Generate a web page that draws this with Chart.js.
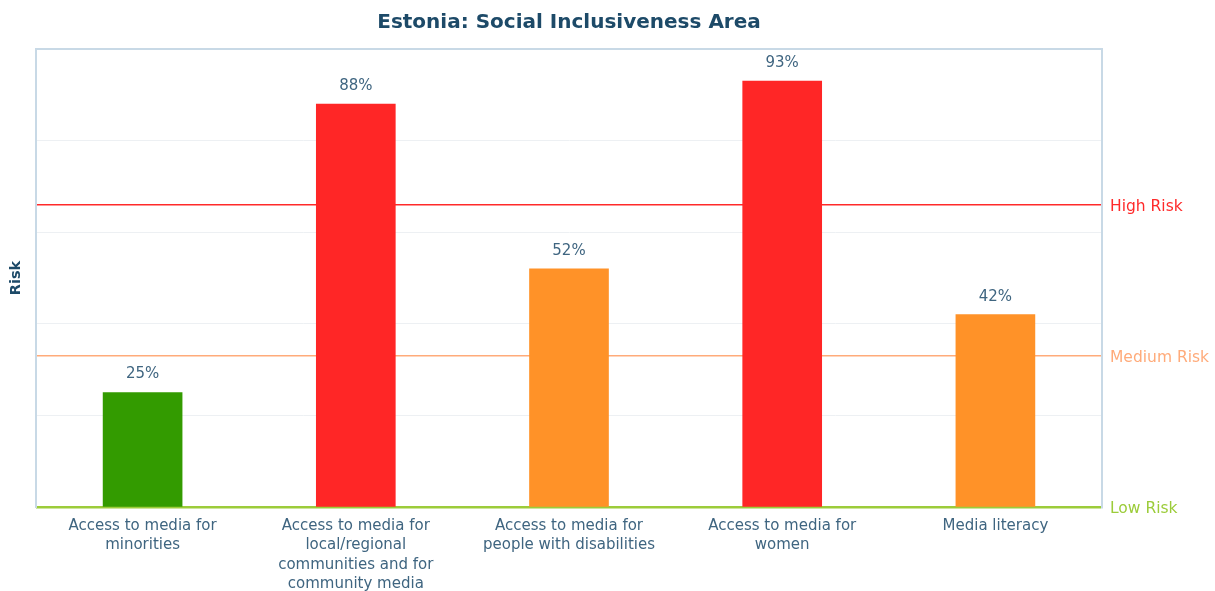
<!DOCTYPE html>
<html>
<head>
<meta charset="utf-8">
<script src="https://cdn.jsdelivr.net/npm/chart.js@4.4.1/dist/chart.umd.min.js"></script>
<style>
  html, body { margin: 0; padding: 0; background: #ffffff; }
  #wrap { width: 1215px; height: 591px; position: relative; }
</style>
</head>
<body>
<div id="wrap"><canvas id="chart" width="1215" height="591"></canvas></div>
<script>
// Indicator scores for the Social Inclusiveness area (percent risk)
const categories = [
  ["Access to media for", "minorities"],
  ["Access to media for", "local/regional", "communities and for", "community media"],
  ["Access to media for", "people with disabilities"],
  ["Access to media for", "women"],
  ["Media literacy"]
];
const riskScores = [25, 88, 52, 93, 42];

// Risk band thresholds and their labels on the right-hand axis
const thresholdValues = [0, 33, 66];
const thresholdLabels = ["Low Risk", "Medium Risk", "High Risk"];
const thresholdColors = ["#9ccc3a", "#ffab7a", "#ff2a2a"];

const titleText = "Estonia: Social Inclusiveness Area";
const FONT = "'DejaVu Sans', sans-serif";

function bandColor(v) {
  if (v >= thresholdValues[2]) return "#ff2626";
  if (v >= thresholdValues[1]) return "#ff9228";
  return "#339b00";
}

const chartDecor = {
  id: "chartDecor",
  afterDraw(chart) {
    const { ctx, chartArea } = chart;
    ctx.save();
    // top border of the plot box
    ctx.strokeStyle = "#c8d9e6";
    ctx.lineWidth = 2;
    ctx.beginPath();
    ctx.moveTo(chartArea.left, chartArea.top);
    ctx.lineTo(chartArea.right, chartArea.top);
    ctx.stroke();

    // title centred over the plot area
    ctx.fillStyle = "#1d4a68";
    ctx.font = "bold 20px " + FONT;
    ctx.textAlign = "center";
    ctx.textBaseline = "middle";
    ctx.fillText(titleText, (chartArea.left + chartArea.right) / 2, 23);

    // value labels above the bars
    const meta = chart.getDatasetMeta(0);
    ctx.font = "15px " + FONT;
    ctx.fillStyle = "#3f6580";
    meta.data.forEach((bar, i) => {
      ctx.fillText(riskScores[i] + "%", bar.x, bar.y - 18);
    });
    ctx.restore();
  }
};

new Chart(document.getElementById("chart"), {
  type: "bar",
  data: {
    labels: categories,
    datasets: [{
      data: riskScores,
      backgroundColor: riskScores.map(bandColor),
      borderWidth: 0,
      barThickness: 79
    }]
  },
  options: {
    responsive: false,
    animation: false,
    layout: { padding: { top: 49, left: 0, right: 0, bottom: 0 } },
    plugins: {
      legend: { display: false },
      title: { display: false },
      tooltip: { enabled: false }
    },
    scales: {
      x: {
        grid: { display: false, drawTicks: false },
        border: { display: false },
        ticks: {
          color: "#3f6580",
          font: { family: FONT, size: 15, lineHeight: 1.3 },
          padding: 9,
          autoSkip: false,
          maxRotation: 0
        },
        afterFit(s) { s.height = 84; }
      },
      y: {
        position: "left",
        min: 0,
        max: 100,
        ticks: { display: false, stepSize: 20 },
        grid: { color: "#edf0f3", lineWidth: 1, drawTicks: false },
        border: { display: true, color: "#c8d9e6", width: 2 },
        title: {
          display: true,
          text: "Risk",
          color: "#1d4a68",
          font: { family: FONT, size: 14.5, weight: "bold" },
          padding: { top: 8, bottom: 0 }
        },
        afterFit(s) { s.width = 36; }
      },
      yRisk: {
        position: "right",
        min: 0,
        max: 100,
        afterBuildTicks(s) {
          s.ticks = thresholdValues.map(v => ({ value: v }));
        },
        ticks: {
          padding: 8,
          labelOffset: 2,
          font: { family: FONT, size: 15.5 },
          color: ctx => thresholdColors[thresholdValues.indexOf(ctx.tick.value)],
          callback: v => thresholdLabels[thresholdValues.indexOf(v)]
        },
        grid: {
          drawTicks: false,
          color: ctx => thresholdColors[thresholdValues.indexOf(ctx.tick.value)],
          lineWidth: ctx => ctx.tick.value === 0 ? 2.5 : 1.5
        },
        border: { display: true, color: "#c8d9e6", width: 2 },
        afterFit(s) { s.width = 113; }
      }
    }
  },
  plugins: [chartDecor]
});
</script>
</body>
</html>
